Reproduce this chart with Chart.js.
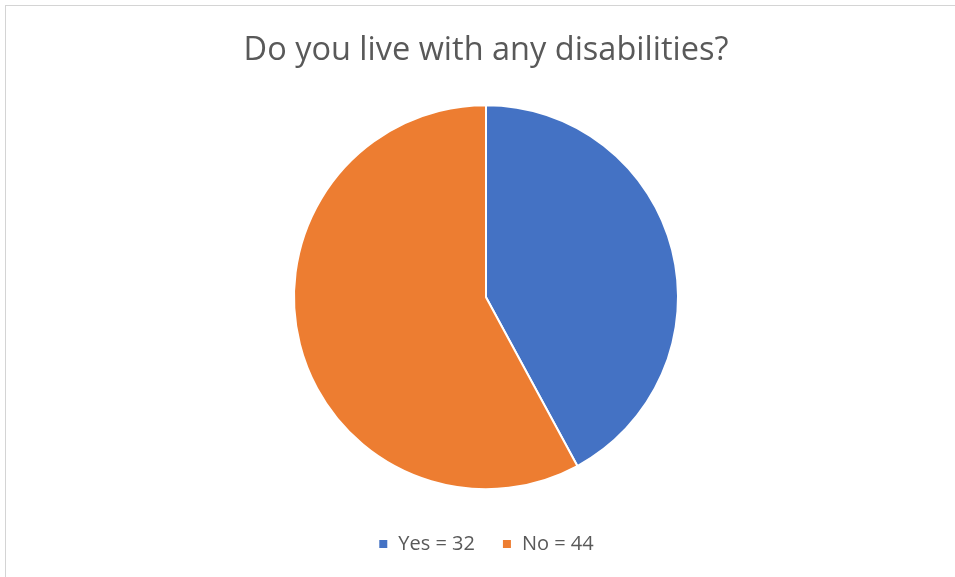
<!DOCTYPE html>
<html>
<head>
<meta charset="utf-8">
<script src="https://cdn.jsdelivr.net/npm/chart.js@4"></script>
<style>
  html, body { margin: 0; padding: 0; background: #fff; overflow: hidden; }
  #wrap { position: absolute; left: 0; top: 0; width: 972px; height: 577px; }
  #frame { position: absolute; left: 5px; top: 5px; width: 1000px; height: 600px;
           border-top: 1px solid #d4d4d4; border-left: 1px solid #d4d4d4; pointer-events: none; }
</style>
</head>
<body>
<div id="wrap"><canvas id="pieChart"></canvas></div>
<div id="frame"></div>
<script>
const labels = ['Yes = 32', 'No = 44'];
const counts = [32, 44];
const colors = ['#4472C4', '#ED7D31'];
const titleText = 'Do you live with any disabilities?';
const textColor = '#595959';

const ctx = document.getElementById('pieChart').getContext('2d');
new Chart(ctx, {
  type: 'pie',
  data: {
    labels: labels,
    datasets: [{
      data: counts,
      backgroundColor: colors,
      borderColor: '#ffffff',
      borderWidth: 2,
      radius: 192
    }]
  },
  options: {
    responsive: true,
    maintainAspectRatio: false,
    animation: false,
    layout: { padding: { top: 0, bottom: 13, left: 0, right: 0 } },
    plugins: {
      title: {
        display: true,
        text: titleText,
        color: textColor,
        font: { family: 'Open Sans', size: 32.5, weight: 'normal', lineHeight: 1.2 },
        padding: { top: 31, bottom: 17.3 }
      },
      legend: {
        display: true,
        position: 'bottom',
        labels: {
          color: textColor,
          boxWidth: 10,
          boxHeight: 10,
          padding: 27,
          font: { family: 'Open Sans', size: 20 }
        }
      },
      tooltip: { enabled: false }
    }
  }
});
</script>
</body>
</html>
